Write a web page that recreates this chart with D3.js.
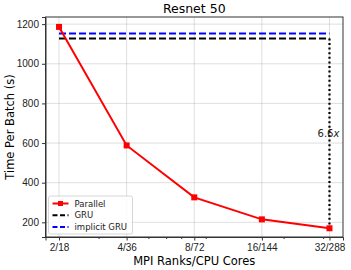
<!DOCTYPE html>
<html>
<head>
<meta charset="utf-8">
<script src="https://cdn.jsdelivr.net/npm/d3@7"></script>
<style>
  body { margin: 0; background: #fff; }
  svg { font-family: "DejaVu Sans", sans-serif; }
  .grid line { stroke: #b0b0b0; stroke-opacity: 0.5; stroke-width: 0.8; }
  .axis path, .axis line { stroke: #333; }
  .axis text { fill: #222; font-size: 10px; }
</style>
</head>
<body>
<div id="chart"></div>
<script>
// data
var ranks       = [2, 4, 8, 16, 32];
var tickLabels  = ['2/18', '4/36', '8/72', '16/144', '32/288'];
var parallel    = [1186, 588, 326, 215, 170];
var gru         = 1128;
var implicitGru = 1153;
var minorTicks  = [3, 5, 6, 7, 9, 20, 30];
var yTicks      = [200, 400, 600, 800, 1000, 1200];
var speedupText = '6.6';

var W = 351, H = 270;
var margin = {top: 17, right: 8, bottom: 33, left: 45.5};
var width  = W - margin.left - margin.right;
var height = H - margin.top - margin.bottom;

var svg = d3.select('#chart').append('svg')
  .attr('width', W)
  .attr('height', H);

var g = svg.append('g')
  .attr('transform', 'translate(' + margin.left + ',' + margin.top + ')');

var x = d3.scaleLog().base(2)
  .domain([Math.pow(2, 0.8), Math.pow(2, 5.2)])
  .range([0, width]);

var y = d3.scaleLinear()
  .domain([126, 1236])
  .range([height, 0]);

// grid
g.append('g').attr('class', 'grid')
  .selectAll('line').data(ranks).enter().append('line')
  .attr('x1', function(d) { return x(d); })
  .attr('x2', function(d) { return x(d); })
  .attr('y1', 0).attr('y2', height);

g.append('g').attr('class', 'grid')
  .selectAll('line').data(yTicks).enter().append('line')
  .attr('x1', 0).attr('x2', width)
  .attr('y1', function(d) { return y(d); })
  .attr('y2', function(d) { return y(d); });

// reference lines
g.append('line')
  .attr('x1', x(ranks[0])).attr('x2', x(ranks[ranks.length - 1]))
  .attr('y1', y(implicitGru)).attr('y2', y(implicitGru))
  .attr('stroke', '#0000ff').attr('stroke-width', 2)
  .attr('stroke-dasharray', '7,3');

g.append('line')
  .attr('x1', x(ranks[0])).attr('x2', x(ranks[ranks.length - 1]))
  .attr('y1', y(gru)).attr('y2', y(gru))
  .attr('stroke', '#000').attr('stroke-width', 2)
  .attr('stroke-dasharray', '7,3');

// speedup marker
var last = ranks.length - 1;
g.append('line')
  .attr('x1', x(ranks[last])).attr('x2', x(ranks[last]))
  .attr('y1', y(gru)).attr('y2', y(parallel[last]))
  .attr('stroke', '#000').attr('stroke-width', 2.2)
  .attr('stroke-dasharray', '2,2.6');

var lbl = g.append('text')
  .attr('x', x(ranks[last]) - 1)
  .attr('y', y((gru + parallel[last]) / 2) + 4)
  .attr('text-anchor', 'middle')
  .style('font-size', '10px')
  .attr('fill', '#222');
lbl.append('tspan').text(speedupText);
lbl.append('tspan').style('font-style', 'italic').text('x');

// parallel line
var line = d3.line()
  .x(function(d, i) { return x(ranks[i]); })
  .y(function(d) { return y(d); });

g.append('path')
  .datum(parallel)
  .attr('d', line)
  .attr('fill', 'none')
  .attr('stroke', '#ff0000')
  .attr('stroke-width', 2);

g.selectAll('.pt').data(parallel).enter().append('rect')
  .attr('class', 'pt')
  .attr('x', function(d, i) { return x(ranks[i]) - 3; })
  .attr('y', function(d) { return y(d) - 3; })
  .attr('width', 6).attr('height', 6)
  .attr('fill', '#ff0000');

// axes
g.append('g').attr('class', 'x axis')
  .attr('transform', 'translate(0,' + height + ')')
  .call(d3.axisBottom(x).tickValues(ranks)
    .tickFormat(function(d, i) { return tickLabels[i]; })
    .tickSize(3.5).tickPadding(3));

g.append('g').attr('class', 'x axis minor')
  .attr('transform', 'translate(0,' + height + ')')
  .call(d3.axisBottom(x).tickValues(minorTicks).tickFormat('').tickSize(2))
  .select('.domain').remove();

g.append('g').attr('class', 'y axis')
  .call(d3.axisLeft(y).tickValues(yTicks).tickFormat(d3.format('d'))
    .tickSize(3.5).tickPadding(3));

g.selectAll('.axis .domain').attr('stroke', '#333');

// frame
g.append('rect')
  .attr('width', width).attr('height', height)
  .attr('fill', 'none').attr('stroke', '#333').attr('stroke-width', 1);

// titles
svg.append('text')
  .attr('x', margin.left + width / 2).attr('y', 13)
  .attr('text-anchor', 'middle')
  .style('font-size', '12.5px')
  .text('Resnet 50');

svg.append('text')
  .attr('x', margin.left + width / 2).attr('y', 265)
  .attr('text-anchor', 'middle')
  .style('font-size', '11.5px')
  .text('MPI Ranks/CPU Cores');

svg.append('text')
  .attr('transform', 'translate(14,' + (margin.top + height / 2) + ') rotate(-90)')
  .attr('text-anchor', 'middle')
  .style('font-size', '11.5px')
  .text('Time Per Batch (s)');

// legend
var legendItems = [
  {name: 'Parallel', color: '#ff0000', dash: null, marker: true},
  {name: 'GRU', color: '#000', dash: '5,2.5', marker: false},
  {name: 'implicit GRU', color: '#0000ff', dash: '5,2.5', marker: false}
];

var leg = g.append('g')
  .attr('transform', 'translate(3,' + (height - 41) + ')');

leg.append('rect')
  .attr('width', 84).attr('height', 38)
  .attr('rx', 2)
  .attr('fill', '#fff').attr('fill-opacity', 0.8)
  .attr('stroke', '#ccc').attr('stroke-width', 0.8);

var item = leg.selectAll('.item').data(legendItems).enter().append('g')
  .attr('class', 'item')
  .attr('transform', function(d, i) { return 'translate(0,' + (7.5 + i * 11.8) + ')'; });

item.append('line')
  .attr('x1', 4).attr('x2', 20)
  .attr('stroke', function(d) { return d.color; })
  .attr('stroke-width', 2)
  .attr('stroke-dasharray', function(d) { return d.dash; });

item.filter(function(d) { return d.marker; }).append('rect')
  .attr('x', 9.5).attr('y', -2.5).attr('width', 5).attr('height', 5)
  .attr('fill', function(d) { return d.color; });

item.append('text')
  .attr('x', 26).attr('y', 3)
  .style('font-size', '8.5px')
  .attr('fill', '#222')
  .text(function(d) { return d.name; });
</script>
</body>
</html>
